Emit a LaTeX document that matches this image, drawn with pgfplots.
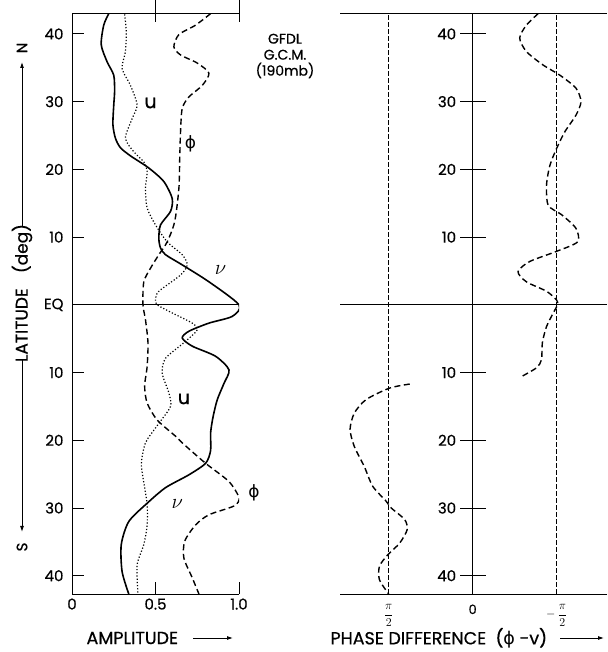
\documentclass[border=0pt]{standalone}
\usepackage{pgfplots}
\pgfplotsset{compat=1.18}
\usepackage{pgfplotstable}
\usepackage{fontspec}
\setmainfont{Poppins}[FakeBold=0.6]
\newfontfamily\dejavu{DejaVu Sans}
\usetikzlibrary{arrows.meta}

% amplitude of v (solid)
\pgfplotstableread{
lat amp
43.0 0.22
41.3 0.19
38.4 0.175
35.9 0.21
33.9 0.25
31.5 0.255
29.5 0.25
26.6 0.245
24.6 0.26
23.2 0.29
22.0 0.35
20.2 0.46
18.2 0.55
15.7 0.60
13.8 0.59
11.8 0.53
9.8 0.52
8.4 0.53
7.4 0.56
5.9 0.66
3.4 0.82
0.0 1.00
-1.7 0.96
-2.7 0.82
-3.9 0.70
-4.9 0.66
-6.1 0.72
-7.6 0.86
-9.6 0.94
-11.6 0.91
-14.0 0.87
-16.5 0.845
-18.9 0.83
-21.5 0.83
-23.4 0.80
-25.1 0.70
-27.0 0.56
-29.3 0.45
-32.0 0.34
-35.4 0.295
-39.4 0.30
-42.7 0.34
}\vtab

% amplitude of u (dotted)
\pgfplotstableread{
lat amp
42.9 0.315
40.3 0.325
37.4 0.32
34.9 0.30
32.4 0.35
29.5 0.39
27.5 0.36
24.6 0.32
22.6 0.37
21.1 0.43
19.7 0.45
17.2 0.44
14.3 0.45
11.8 0.50
9.3 0.57
7.4 0.66
5.9 0.69
4.4 0.65
2.0 0.52
0.8 0.50
0.0 0.51
-1.2 0.60
-2.7 0.72
-3.7 0.75
-5.6 0.67
-7.9 0.56
-10.1 0.54
-13.0 0.58
-15.0 0.59
-17.5 0.52
-19.9 0.45
-21.2 0.43
-23.6 0.415
-27.0 0.435
-29.5 0.45
-32.5 0.45
-35.4 0.43
-38.4 0.39
-42.7 0.395
}\utab

% amplitude of phi (dashed)
\pgfplotstableread{
lat amp
43.0 0.83
41.3 0.74
39.9 0.64
38.1 0.61
36.9 0.65
35.7 0.75
34.2 0.82
32.4 0.78
30.7 0.70
29.0 0.66
25.6 0.65
21.6 0.645
17.2 0.64
12.3 0.615
9.3 0.57
7.4 0.52
5.4 0.47
3.4 0.43
0.0 0.425
-2.2 0.44
-5.6 0.455
-9.1 0.45
-12.0 0.435
-14.5 0.45
-17.0 0.51
-19.4 0.62
-20.6 0.67
-23.4 0.80
-26.1 0.94
-28.5 1.00
-29.7 0.97
-31.0 0.82
-32.5 0.74
-34.9 0.675
-37.4 0.67
-40.3 0.72
-42.7 0.76
}\phitab

% phase difference, northern branch (units of pi/2)
\pgfplotstableread{
lat ph
43.0 -0.78
41.3 -0.64
39.4 -0.56
37.4 -0.64
35.4 -0.84
33.9 -1.04
32.0 -1.23
30.0 -1.29
28.0 -1.23
25.6 -1.10
23.1 -1.00
20.6 -0.92
17.7 -0.88
14.7 -0.90
13.3 -1.06
11.3 -1.23
9.3 -1.25
7.9 -1.00
6.4 -0.68
4.9 -0.54
3.4 -0.64
2.0 -0.88
0.7 -1.00
0.0 -1.01
-1.2 -0.96
-3.2 -0.88
-5.6 -0.83
-8.1 -0.82
-9.3 -0.76
-10.6 -0.58
}\phaseN

% phase difference, southern branch
\pgfplotstableread{
lat ph
-11.7 0.75
-12.3 0.99
-14.0 1.27
-16.0 1.41
-18.4 1.46
-20.9 1.41
-23.9 1.29
-26.8 1.19
-29.0 1.03
-30.0 0.97
-31.7 0.81
-33.2 0.78
-35.2 0.87
-36.9 1.01
-38.6 1.11
-40.6 1.11
-42.7 1.00
}\phaseS

\begin{document}
\begin{tikzpicture}
\path[use as bounding box] (0pt,0pt) rectangle (607pt,652pt);

% ---------- left panel: amplitude ----------
\begin{axis}[
  at={(72pt,58pt)}, anchor=south west,
  scale only axis, width=167pt, height=580.7pt,
  xmin=0, xmax=1, ymin=-42.7, ymax=43.05,
  axis x line=bottom, axis y line=left,
  axis line style={-, line width=0.9pt},
  tick align=inside, major tick length=12pt,
  tick style={line width=0.9pt, black},
  xtick={0,0.5,1}, xticklabels={0,0.5,1.0},
  ytick={-40,-30,-20,-10,0,10,20,30,40},
  yticklabels={40,30,20,10,EQ,10,20,30,40},
  ticklabel style={font=\fontsize{15}{17}\selectfont},
  xticklabel style={yshift=-1pt},
  yticklabel style={xshift=-5pt},
  /pgf/number format/assume math mode=true,
  clip mode=individual,
]
\addplot[black, line width=1.6pt, smooth, tension=0.45] table[x=amp, y=lat] {\vtab};
\addplot[black, line width=1.2pt, dotted, smooth, tension=0.45] table[x=amp, y=lat] {\utab};
\addplot[black, line width=1.4pt, dash pattern=on 6pt off 3.5pt, smooth, tension=0.45] table[x=amp, y=lat] {\phitab};
% frame pieces
\draw[line width=0.9pt] (axis cs:0,43.05) -- (axis cs:1,43.05);
\draw[line width=0.9pt] (axis cs:0,0) -- (axis cs:1,0);
\draw[line width=0.9pt] (axis cs:0.5,43.05) -- ++(0,-13pt);
\draw[line width=0.9pt] (axis cs:1,43.05) -- ++(0,-10pt);
\draw[line width=0.9pt] (axis cs:0.5,0) ++(0,-6pt) -- ++(0,12pt);
\draw[line width=0.9pt] (axis cs:1,0) ++(0,-6pt) -- ++(0,12pt);
% curve labels
\node[font=\fontsize{19}{20}\selectfont] at (axis cs:0.47,29.8) {u};
\node[font=\fontsize{17}{18}\selectfont\dejavu] at (axis cs:0.71,23.8) {ϕ};
\node[font=\fontsize{22}{22}\selectfont] at (axis cs:0.89,5.2) {$\nu$};
\node[font=\fontsize{19}{20}\selectfont] at (axis cs:0.67,-13.9) {u};
\node[font=\fontsize{22}{22}\selectfont] at (axis cs:0.63,-29.4) {$\nu$};
\node[font=\fontsize{17}{18}\selectfont\dejavu] at (axis cs:1.09,-27.8) {ϕ};
\end{axis}

% ---------- right panel: phase difference ----------
\begin{axis}[
  at={(340pt,58pt)}, anchor=south west,
  scale only axis, width=267pt, height=580.7pt,
  xmin=-1.6, xmax=1.58, x dir=reverse, ymin=-42.7, ymax=43.05,
  axis x line=bottom, axis y line=middle,
  axis line style={-, line width=0.9pt},
  hide obscured x ticks=false,
  xtick={1,0,-1},
  xticklabels={$\displaystyle\frac{\pi}{2}$, 0, $\displaystyle-\,\frac{\pi}{2}$},
  x tick style={draw=none},
  ytick={-40,-30,-20,-10,10,20,30,40},
  yticklabels={40,30,20,10,10,20,30,40},
  y tick style={line width=0.9pt, black},
  tick align=center, major tick length=26pt,
  ticklabel style={font=\fontsize{15}{17}\selectfont},
  xticklabel style={font=\fontsize{13}{15}\selectfont, yshift=6pt},
  /pgf/number format/assume math mode=true,
  clip mode=individual,
]
\addplot[black, line width=0.6pt, dash pattern=on 5pt off 2pt] coordinates {(1,-42.7) (1,43.05)};
\addplot[black, line width=0.6pt, dash pattern=on 5pt off 2pt] coordinates {(-1,-42.7) (-1,43.05)};
\addplot[black, line width=1.4pt, dash pattern=on 6pt off 3.5pt, smooth, tension=0.45] table[x=ph, y=lat] {\phaseN};
\addplot[black, line width=1.4pt, dash pattern=on 6pt off 3.5pt, smooth, tension=0.45] table[x=ph, y=lat] {\phaseS};
\draw[line width=0.9pt] (axis cs:1.58,43.05) -- (axis cs:-1.6,43.05);
\draw[line width=0.9pt] (axis cs:1.58,0) -- (axis cs:-1.6,0);
\end{axis}

% ---------- annotations ----------
\node[align=center, font=\fontsize{14}{16}\selectfont] at (285pt,596pt) {GFDL\\G.C.M.\\(190mb)};

% y label
\node[rotate=90, font=\fontsize{17}{18}\selectfont] at (22pt,359pt) {LATITUDE\hspace{0.9em}(deg)};
\draw[line width=0.9pt, -{Latex[length=6pt,width=4pt]}] (22pt,426pt) -- (22pt,590pt);
\node[rotate=90, font=\fontsize{15}{16}\selectfont] at (22pt,604pt) {N};
\draw[line width=0.9pt, -{Latex[length=6pt,width=4pt]}] (22pt,292pt) -- (22pt,120pt);
\node[rotate=90, font=\fontsize{15}{16}\selectfont] at (22pt,105pt) {S};

% x labels
\node[anchor=west, font=\fontsize{17.5}{18}\selectfont] at (83pt,14pt) {AMPLITUDE};
\draw[line width=0.9pt, -{Latex[length=6pt,width=4pt]}] (193pt,14pt) -- (233pt,14pt);
\node[anchor=west, font=\fontsize{17.5}{18}\selectfont] at (327pt,14pt) {PHASE DIFFERENCE\ \ ({\dejavu ϕ} -v)};
\draw[line width=0.9pt, -{Latex[length=6pt,width=4pt]}] (560pt,14pt) -- (604pt,14pt);
\end{tikzpicture}
\end{document}
